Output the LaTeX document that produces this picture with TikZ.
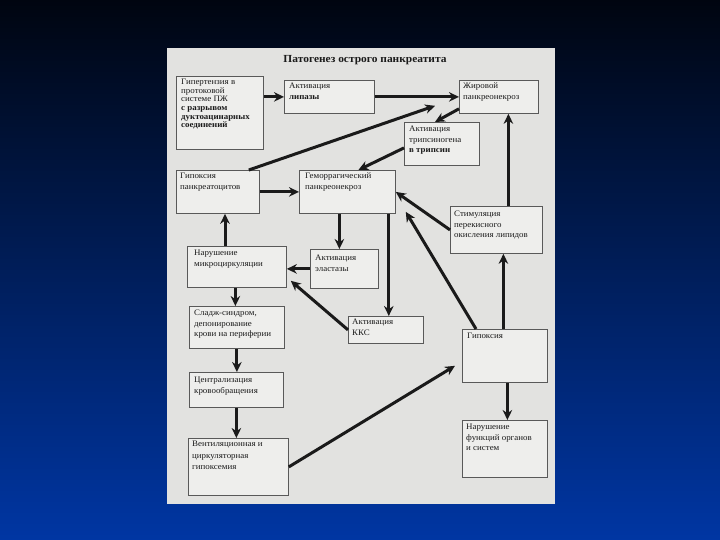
\documentclass[tikz,border=0pt]{standalone}
\usepackage{fontspec}
\setmainfont{Liberation Serif}[FakeStretch=1.06]
\usetikzlibrary{arrows.meta, positioning, calc}

\definecolor{bgtop}{HTML}{000510}
\definecolor{bgmid}{HTML}{042A8E}
\definecolor{bgbot}{HTML}{0036A3}
\definecolor{paper}{HTML}{E2E2E0}
\definecolor{ink}{HTML}{1A1A1A}

\begin{document}
\begin{tikzpicture}[x=1pt, y=-1pt,
    myarrow/.style={-{Stealth[length=10pt, width=9.5pt]}, line width=3pt, draw=ink},
    box/.style={draw=black!65, line width=0.8pt, fill=paper!60!white,
                anchor=north west, inner sep=0pt},
    boxtext/.style={anchor=north west, align=left, inner sep=0pt, text=ink,
                    font=\fontsize{8.4}{10.5}\selectfont},
    heading/.style={font=\fontsize{10.8}{12}\selectfont\bfseries, text=ink},
]

% ===================== SLIDE + SCAN =====================
\useasboundingbox (0,0) rectangle (720,540);
\shade[top color=bgtop, middle color=bgmid, bottom color=bgbot] (0,0) rectangle (720,540);
\fill[paper] (167,48) rectangle (555,504);

% ===================== TITLE =====================
\node[heading] (title) at (365,60) {Патогенез острого панкреатита};

% ===================== BOXES =====================
\node[box, minimum width=87pt, minimum height=73pt] (hyp) at (176,76) {};
\node[boxtext, font=\fontsize{8.4}{8.6}\selectfont] (hyp-t) at ($(hyp.north west)+(5,3)$)
    {Гипертензия в\\ протоковой\\ системе ПЖ\\ \textbf{с разрывом}\\
     \textbf{дуктоацинарных}\\ \textbf{соединений}};

\node[box, minimum width=90pt, minimum height=33pt] (lip) at (284,80) {};
\node[boxtext] (lip-t) at ($(lip.north west)+(5,3)$) {Активация\\ \textbf{липазы}};

\node[box, minimum width=79pt, minimum height=33pt] (fat) at (459,80) {};
\node[boxtext] (fat-t) at ($(fat.north west)+(4,3)$) {Жировой\\ панкреонекроз};

\node[box, minimum width=75pt, minimum height=43pt] (tryp) at (404,122) {};
\node[boxtext] (tryp-t) at ($(tryp.north west)+(5,4)$)
    {Активация\\ трипсиногена\\ \textbf{в трипсин}};

\node[box, minimum width=83pt, minimum height=43pt] (hpan) at (176,170) {};
\node[boxtext] (hpan-t) at ($(hpan.north west)+(4,3)$) {Гипоксия\\ панкреатоцитов};

\node[box, minimum width=96pt, minimum height=43pt] (hem) at (299,170) {};
\node[boxtext] (hem-t) at ($(hem.north west)+(6,3)$) {Геморрагический\\ панкреонекроз};

\node[box, minimum width=92pt, minimum height=47pt] (lpo) at (450,206) {};
\node[boxtext] (lpo-t) at ($(lpo.north west)+(4,5)$)
    {Стимуляция\\ перекисного\\ окисления липидов};

\node[box, minimum width=99pt, minimum height=41pt] (micro) at (187,246) {};
\node[boxtext] (micro-t) at ($(micro.north west)+(7,4)$) {Нарушение\\ микроциркуляции};

\node[box, minimum width=68pt, minimum height=39pt] (elast) at (310,249) {};
\node[boxtext] (elast-t) at ($(elast.north west)+(5,6)$) {Активация\\ эластазы};

\node[box, minimum width=95pt, minimum height=42pt] (sludge) at (189,306) {};
\node[boxtext] (sludge-t) at ($(sludge.north west)+(5,4)$)
    {Сладж-синдром,\\ депонирование\\ крови на периферии};

\node[box, minimum width=75pt, minimum height=27pt] (kks) at (348,316) {};
\node[boxtext] (kks-t) at ($(kks.north west)+(4,3)$) {Активация\\ ККС};

\node[box, minimum width=85pt, minimum height=53pt] (hypox) at (462,329) {};
\node[boxtext] (hypox-t) at ($(hypox.north west)+(5,4)$) {Гипоксия};

\node[box, minimum width=94pt, minimum height=35pt] (central) at (189,372) {};
\node[boxtext] (central-t) at ($(central.north west)+(5,5)$)
    {Централизация\\ кровообращения};

\node[box, minimum width=100pt, minimum height=57pt] (vent) at (188,438) {};
\node[boxtext, font=\fontsize{8.4}{11.5}\selectfont] (vent-t) at ($(vent.north west)+(4,3)$)
    {Вентиляционная и\\ циркуляторная\\ гипоксемия};

\node[box, minimum width=85pt, minimum height=57pt] (organ) at (462,420) {};
\node[boxtext] (organ-t) at ($(organ.north west)+(4,4)$)
    {Нарушение\\ функций органов\\ и систем};

% ===================== UPPER FLOW =====================
\draw[myarrow] (hyp.east |- lip.west) -- (lip.west);
\draw[myarrow] (lip.east) -- (lip.east -| fat.west);
\draw[myarrow] ($(hpan.north east)+(-11,0)$) -- ($(fat.south west)+(-24,-8)$);
\draw[myarrow] ($(fat.south west)+(0,-5)$) -- ($(tryp.north west)+(31,0)$);
\draw[myarrow] ($(tryp.west)+(0,4)$) -- ($(hem.north)+(11,0)$);
\draw[myarrow] (hpan.east) -- (hem.west);

% ===================== MIDDLE =====================
\coordinate (m1) at ($(micro.north west)+(38,0)$);
\draw[myarrow] (m1) -- (m1 |- hpan.south);

\coordinate (e1) at ($(elast.north)+(-5,0)$);
\draw[myarrow] (e1 |- hem.south) -- (e1);
\draw[myarrow] (elast.west) -- (elast.west -| micro.east);

\coordinate (k1) at ($(hem.south east)+(-7,0)$);
\draw[myarrow] (k1) -- (k1 |- kks.north);
\draw[myarrow] (kks.west) -- ($(micro.south east)+(4,-7)$);

% ===================== RIGHT SIDE =====================
\draw[myarrow] (lpo.west) -- (hem.east);
\draw[myarrow] ($(hypox.north west)+(14,0)$) -- ($(hem.south east)+(10,-2)$);

\coordinate (f1) at ($(fat.south)+(9.5,0)$);
\draw[myarrow] (f1 |- lpo.north) -- (f1);

\coordinate (s1) at ($(lpo.south)+(7,0)$);
\draw[myarrow] (s1 |- hypox.north) -- (s1);

\coordinate (o1) at ($(organ.north)+(2.5,0)$);
\draw[myarrow] (o1 |- hypox.south) -- (o1);

% ===================== LEFT COLUMN =====================
\coordinate (c1) at ($(sludge.north)+(-1.5,0)$);
\draw[myarrow] (c1 |- micro.south) -- (c1);
\draw[myarrow] (sludge.south) -- (sludge.south |- central.north);
\draw[myarrow] (central.south) -- (central.south |- vent.north);

% back up to hypoxia
\draw[myarrow] (vent.east) -- ($(hypox.south west)+(-7,-17)$);

\end{tikzpicture}
\end{document}
